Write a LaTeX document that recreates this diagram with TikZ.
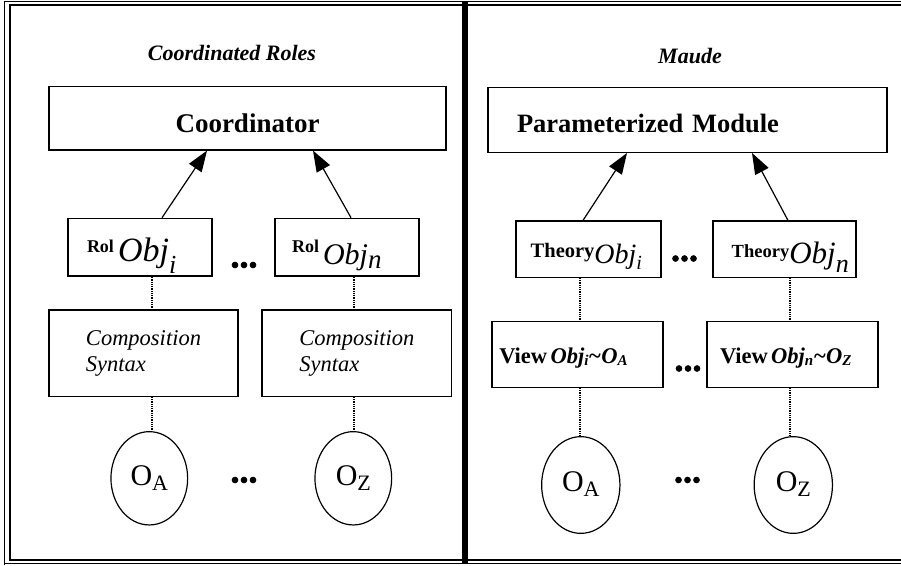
\documentclass[tikz,border=0pt]{standalone}
\usepackage{fontspec}
\setmainfont{Liberation Serif}
\usetikzlibrary{arrows.meta,calc,shapes.geometric}
\newcommand\myfs[1]{\fontsize{#1}{#1}\selectfont}
\begin{document}
\begin{tikzpicture}[x=1pt,y=-1pt,
  box/.style={draw,rectangle,line width=1.3pt,inner sep=0pt},
  circ/.style={draw,ellipse,line width=1.2pt,inner sep=0pt},
  arr/.style={-{Triangle[length=21pt,width=15pt]},line width=1.2pt},
  dotl/.style={line width=1.8pt,dash pattern=on 1pt off 0.8pt},
  dotsn/.style={font=\bfseries\myfs{36}\addfontfeatures{FakeBold=2},inner sep=0pt,anchor=base},
  ttl/.style={font=\bfseries\itshape\myfs{22},anchor=base,inner sep=0pt},
  comp/.style={box,minimum height=86.3pt,align=left,font=\itshape\fontsize{22.5}{26}\selectfont}]

\useasboundingbox (0,0) rectangle (901,565);

% frame
\draw[line width=1pt] (4,565) -- (4,1.5) -- (901,1.5);
\draw[line width=1pt] (4,563) -- (901,563);
\draw[line width=2pt] (901,4.5) -- (9.5,4.5) -- (9.5,559.5) -- (901,559.5);
\draw[line width=6pt] (464.7,1) -- (464.7,564);

% titles
\node[ttl] (t1) at (232,60) {Coordinated Roles};
\node[ttl] (t2) at (690,63) {Maude};

% top boxes
\node[box,minimum width=397pt,minimum height=63.3pt,text height=29pt,text depth=0pt,
      font=\bfseries\myfs{27}] (coord) at (247.5,118.3) {Coordinator};
\node[box,minimum width=399pt,minimum height=64.6pt,inner xsep=29pt,text width=341pt,align=left,
      text height=24pt,text depth=0pt,font=\bfseries\myfs{26.5}] (pm) at (687.5,120) {Parameterized Module};

% role boxes
\node[box,minimum width=144pt,minimum height=57.7pt,inner xsep=19pt,text width=106pt,align=left,
      text height=27.6pt,text depth=0pt] (rol1) at (140,247.2)
  {\mbox{\bfseries\myfs{18}\raisebox{9pt}{Rol}}\hspace{4pt}\mbox{\itshape\myfs{34}Obj\raisebox{-12pt}{\myfs{26}i}}};
\node[box,minimum width=144pt,minimum height=57.7pt,inner xsep=17pt,text width=110pt,align=left,
      text height=33.6pt,text depth=0pt] (rol2) at (347,247.2)
  {\mbox{\bfseries\myfs{18}\raisebox{12pt}{Rol}}\hspace{4pt}\mbox{\itshape\myfs{30}Obj\raisebox{-4pt}{\myfs{27}n}}};

% theory boxes
\node[box,minimum width=145pt,minimum height=56.3pt,inner xsep=14.7pt,text width=115.6pt,align=left,
      text height=27.6pt,text depth=0pt] (th1) at (588.5,249.2)
  {\mbox{\bfseries\myfs{20.5}\raisebox{5.5pt}{Theory}}\mbox{\itshape\myfs{28}Obj\raisebox{-6pt}{\myfs{20}i}}};
\node[box,minimum width=143pt,minimum height=56.3pt,inner xsep=18.7pt,text width=105.6pt,align=left,
      text height=27.6pt,text depth=0pt] (th2) at (784.5,249.2)
  {\mbox{\bfseries\myfs{18.5}\raisebox{6pt}{Theory}}\mbox{\itshape\myfs{31}Obj\raisebox{-9pt}{\myfs{26}n}}};

% composition boxes
\node[comp,minimum width=189pt] (comp1) at (143.5,353.2) {Composition\\Syntax};
\node[comp,minimum width=189.7pt] (comp2) at (356.8,353.2) {Composition\\Syntax};

% view boxes
\node[box,minimum width=171pt,minimum height=65.6pt,inner xsep=7.3pt,text width=156.4pt,align=left,
      text height=17pt,text depth=0pt] (v1) at (577.5,354.5)
  {\mbox{\bfseries\myfs{22.5}View \itshape Obj\raisebox{-2pt}{\myfs{15}i}\textasciitilde O\raisebox{-2pt}{\myfs{15}A}}};
\node[box,minimum width=171pt,minimum height=65.6pt,inner xsep=13pt,text width=145pt,align=left,
      text height=17pt,text depth=0pt] (v2) at (792.5,354.5)
  {\mbox{\bfseries\myfs{22.5}View \itshape Obj\raisebox{-2pt}{\myfs{15}n}\textasciitilde O\raisebox{-2pt}{\myfs{15}Z}}};

% objects
\node[circ,minimum width=76.7pt,minimum height=93.3pt,text height=13.4pt,text depth=0pt] (c1) at (149.3,478.3)
  {\myfs{30}O\raisebox{-5pt}{\myfs{22}A}};
\node[circ,minimum width=76.7pt,minimum height=93.3pt,text height=13.4pt,text depth=0pt] (c2) at (353.3,478.3)
  {\myfs{30}O\raisebox{-5pt}{\myfs{22}Z}};
\node[circ,minimum width=78.3pt,minimum height=96.7pt,text height=12pt,text depth=0pt] (r1) at (580.8,485)
  {\myfs{30}O\raisebox{-5pt}{\myfs{22}A}};
\node[circ,minimum width=78.3pt,minimum height=96.7pt,text height=12pt,text depth=0pt] (r2) at (793.3,485)
  {\myfs{30}O\raisebox{-5pt}{\myfs{22}Z}};

% ellipses (dots)
\node[dotsn] (d1) at (244,267.4) {...};
\node[dotsn] (d2) at (684.5,260.9) {...};
\node[dotsn] (d3) at (688,370.9) {...};
\node[dotsn] (d4) at (244,482.4) {...};
\node[dotsn] (d5) at (687.5,482.4) {...};

% arrows
\draw[arr] ($(rol1.north)+(22,0)$) -- ($(coord.south)+(-40.5,0)$);
\draw[arr] ($(rol2.north)+(4,0)$) -- ($(coord.south)+(65.5,0)$);
\draw[arr] ($(th1.north)+(-5.5,0)$) -- ($(pm.south)+(-60.5,0)$);
\draw[arr] ($(th2.north)+(3.5,0)$) -- ($(pm.south)+(64.5,0)$);

% dotted links
\draw[dotl] ($(rol1.south)+(12,0)$) -- ($(comp1.north)+(8.5,0)$);
\draw[dotl] ($(comp1.south)+(8.5,0)$) -- ($(c1.north)+(2.7,0)$);
\draw[dotl] ($(rol2.south)+(7,0)$) -- ($(comp2.north)+(-2.8,0)$);
\draw[dotl] ($(comp2.south)+(-2.8,0)$) -- ($(c2.north)+(0.7,0)$);
\draw[dotl] ($(th1.south)+(-8.5,0)$) -- ($(v1.north)+(2.5,0)$);
\draw[dotl] ($(v1.south)+(2.5,0)$) -- ($(r1.north)+(-0.8,0)$);
\draw[dotl] ($(th2.south)+(5.5,0)$) -- ($(v2.north)+(-2.5,0)$);
\draw[dotl] ($(v2.south)+(-2.5,0)$) -- ($(r2.north)+(-3.3,0)$);
\end{tikzpicture}
\end{document}
